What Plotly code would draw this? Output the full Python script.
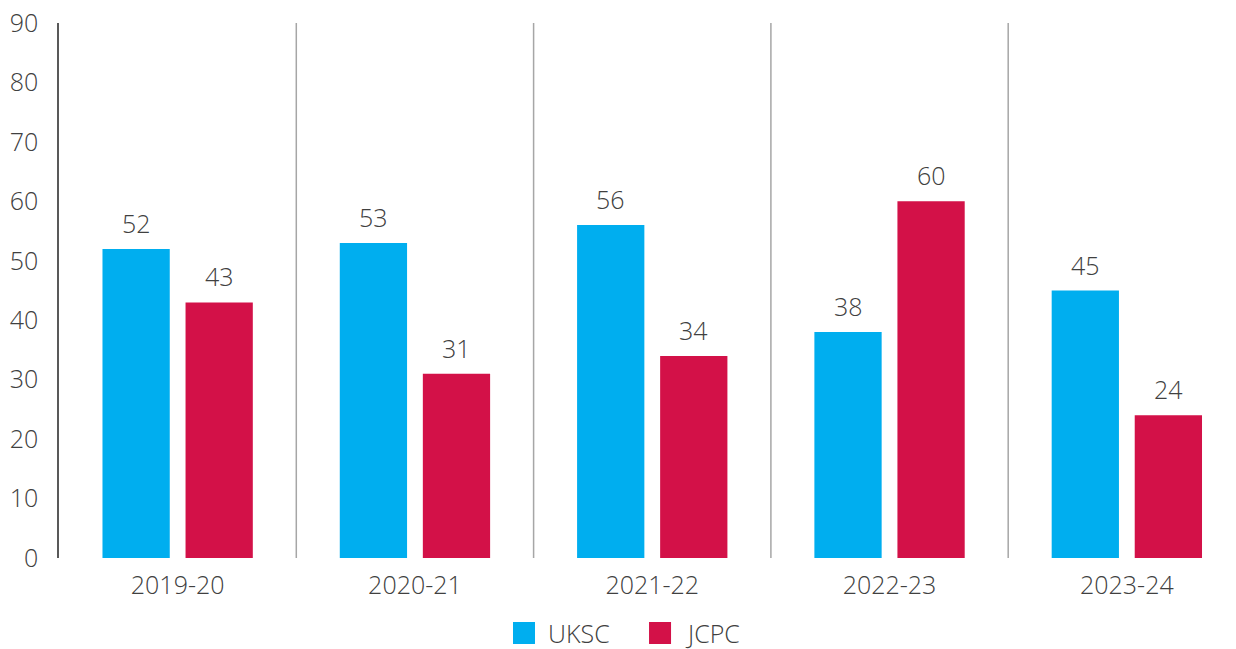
import plotly.graph_objects as go

# Financial years and case counts per court
years = ["2019-20", "2020-21", "2021-22", "2022-23", "2023-24"]
uksc = [52, 53, 56, 38, 45]
jcpc = [43, 31, 34, 60, 24]

series_names = ["UKSC", "JCPC"]
series_colors = ["#00AEEF", "#D31148"]
y_ticks = list(range(0, 91, 10))

text_color = "#404040"
font_family = "Open Sans, Lato, sans-serif"
label_font = dict(size=25, color=text_color, family=font_family, weight=300)

fig = go.Figure()
for name, vals, col in zip(series_names, [uksc, jcpc], series_colors):
    fig.add_trace(go.Bar(
        x=years, y=vals, name=name, marker_color=col,
        marker_line_width=0, showlegend=False,
    ))

# value labels above each bar
annotations = []
for i, vals in enumerate([uksc, jcpc]):
    shift = -41.5 if i == 0 else 41.5
    for yr, v in zip(years, vals):
        annotations.append(dict(
            x=yr, y=v, xref="x", yref="y", text=str(v), showarrow=False,
            xshift=shift, yshift=7, yanchor="bottom", font=label_font,
        ))

# vertical separators between year groups
shapes = []
for k in range(len(years) - 1):
    shapes.append(dict(
        type="line", xref="x", yref="y", x0=k + 0.5, x1=k + 0.5,
        y0=0, y1=90, line=dict(color="#A6A6A6", width=1.5), layer="below",
    ))

# legend drawn as squares plus labels below the axis
legend_items = [
    (0.3857, 0.4138),
    (0.5013, 0.5302),
]
for (sx, tx), name, col in zip(legend_items, series_names, series_colors):
    shapes.append(dict(
        type="rect", xref="paper", yref="paper",
        x0=sx, x1=sx + 0.0187, y0=-0.1607, y1=-0.1196,
        fillcolor=col, line=dict(width=0),
    ))
    annotations.append(dict(
        x=tx, y=-0.1402, xref="paper", yref="paper", text=name,
        showarrow=False, xanchor="left", yanchor="middle", font=label_font,
    ))

fig.update_layout(
    width=1236, height=649,
    margin=dict(l=59, r=0, t=23, b=91),
    plot_bgcolor="white", paper_bgcolor="white",
    barmode="group", bargap=0.30, bargroupgap=0.19,
    font=label_font,
    shapes=shapes, annotations=annotations,
    showlegend=False,
)
fig.update_xaxes(
    range=[-0.5, 4.46], showgrid=False, zeroline=False, showline=False,
    ticks="", ticklabelstandoff=10, tickfont=label_font,
)
fig.update_yaxes(
    range=[0, 90], tickvals=y_ticks, showgrid=False, zeroline=False,
    showline=True, linecolor="#595959", linewidth=1.5, ticks="",
    ticklabelstandoff=14, tickfont=label_font,
)

fig.write_html("out.html")
